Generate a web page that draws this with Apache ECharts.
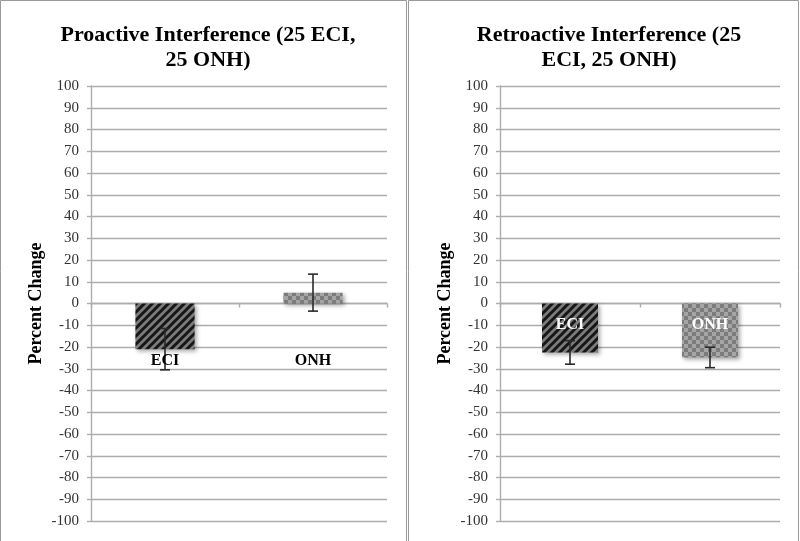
<!DOCTYPE html>
<html>
<head>
<meta charset="utf-8">
<script src="https://cdn.jsdelivr.net/npm/echarts@6/dist/echarts.min.js"></script>
<style>
html,body{margin:0;padding:0;background:#fff;}
#chart{width:800px;height:541px;}
</style>
</head>
<body>
<div id="chart"></div>
<script>
// ---- data ----
const categories = ['ECI', 'ONH'];
const proactiveMeans = [-21, 5];
const proactiveErr = [9.5, 8.5];
const retroMeans = [-22.5, -24.8];
const retroErr = [5.4, 4.7];
const yTicks = [-100, 100, 10]; // min, max, interval
const titles = ['Proactive Interference (25 ECI,\n25 ONH)', 'Retroactive Interference (25\nECI, 25 ONH)'];
const yName = 'Percent Change';

// ---- patterns ----
function stripePattern() {
  const c = document.createElement('canvas');
  c.width = 8; c.height = 8;
  const g = c.getContext('2d');
  g.fillStyle = '#7c7c7c';
  g.fillRect(0, 0, 8, 8);
  g.strokeStyle = '#161616';
  g.lineWidth = 3;
  [[-4, 4, 4, -4], [0, 8, 8, 0], [4, 12, 12, 4]].forEach(p => {
    g.beginPath(); g.moveTo(p[0], p[1]); g.lineTo(p[2], p[3]); g.stroke();
  });
  return c;
}
function checkerPattern() {
  const c = document.createElement('canvas');
  c.width = 8; c.height = 8;
  const g = c.getContext('2d');
  g.fillStyle = '#a5a5a5'; g.fillRect(0, 0, 8, 8);
  g.fillStyle = '#7c7c7c';
  g.fillRect(0, 0, 4, 4); g.fillRect(4, 4, 4, 4);
  return c;
}
const fills = [
  { image: stripePattern(), repeat: 'repeat' },
  { image: checkerPattern(), repeat: 'repeat' }
];

const font = '"Liberation Serif", "DejaVu Serif", serif';
const gridColor = '#adadad';

function errData(means, errs) {
  return means.map((m, i) => [i, m - errs[i], m + errs[i]]);
}
function barData(means) {
  return means.map((m, i) => ({
    value: m,
    itemStyle: {
      color: fills[i],
      shadowColor: 'rgba(0,0,0,0.35)', shadowBlur: 4, shadowOffsetX: 2, shadowOffsetY: 2
    }
  }));
}
function errSeries(idx, means, errs) {
  return {
    type: 'custom', xAxisIndex: idx, yAxisIndex: idx, z: 5,
    data: errData(means, errs),
    renderItem: function (params, api) {
      const x = api.value(0);
      const lo = api.coord([x, api.value(1)]);
      const hi = api.coord([x, api.value(2)]);
      const w = 5;
      const st = { stroke: '#2a2a2a', lineWidth: 1.6 };
      return {
        type: 'group',
        children: [
          { type: 'line', shape: { x1: lo[0], y1: lo[1], x2: hi[0], y2: hi[1] }, style: st },
          { type: 'line', shape: { x1: lo[0] - w, y1: lo[1], x2: lo[0] + w, y2: lo[1] }, style: st },
          { type: 'line', shape: { x1: hi[0] - w, y1: hi[1], x2: hi[0] + w, y2: hi[1] }, style: st }
        ]
      };
    }
  };
}
// category labels drawn just below the zero line (as in the original)
function catLabelSeries(idx, offset, color) {
  return {
    type: 'custom', xAxisIndex: idx, yAxisIndex: idx, z: 6,
    data: categories.map((c, i) => [i, 0]),
    renderItem: function (params, api) {
      const p = api.coord([api.value(0), 0]);
      return {
        type: 'text',
        style: {
          text: categories[params.dataIndex], x: p[0], y: p[1] + offset,
          align: 'center', verticalAlign: 'middle',
          font: 'bold 16px ' + font, fill: color
        }
      };
    }
  };
}
function yAxis(idx) {
  return {
    type: 'value', gridIndex: idx,
    min: yTicks[0], max: yTicks[1], interval: yTicks[2],
    name: yName, nameLocation: 'middle', nameGap: 46, nameRotate: 90, nameMoveOverlap: false,
    nameTextStyle: { fontFamily: font, fontWeight: 'bold', fontSize: 18, color: '#000' },
    axisLine: { show: true, lineStyle: { color: gridColor, width: 1.4 } },
    axisTick: { show: true, length: 4, lineStyle: { color: gridColor, width: 1.4 } },
    axisLabel: { fontFamily: font, fontSize: 15, color: '#333', margin: 12 },
    splitLine: { show: true, lineStyle: { color: gridColor, width: 1.4 } }
  };
}
function xAxis(idx) {
  return {
    type: 'category', gridIndex: idx, data: categories,
    axisLine: { show: true, onZero: true, lineStyle: { color: gridColor, width: 1.4 } },
    axisTick: { show: true, length: 4, lineStyle: { color: gridColor, width: 1.4 } },
    axisLabel: { show: false }
  };
}

const chart = echarts.init(document.getElementById('chart'), null, { renderer: 'canvas' });
chart.setOption({
  animation: false,
  backgroundColor: '#fff',
  graphic: [
    { type: 'rect', shape: { x: 0.5, y: 0.5, width: 406, height: 545 }, style: { fill: 'none', stroke: '#9a9a9a', lineWidth: 1 }, z: 0 },
    { type: 'rect', shape: { x: 408.5, y: 0.5, width: 390, height: 545 }, style: { fill: 'none', stroke: '#9a9a9a', lineWidth: 1 }, z: 0 }
  ],
  title: [
    { text: titles[0], left: 203, top: 18, textAlign: 'center',
      textStyle: { fontFamily: font, fontWeight: 'bold', fontSize: 22, lineHeight: 25, color: '#000' } },
    { text: titles[1], left: 604, top: 18, textAlign: 'center',
      textStyle: { fontFamily: font, fontWeight: 'bold', fontSize: 22, lineHeight: 25, color: '#000' } }
  ],
  grid: [
    { left: 91, right: 413, top: 86, bottom: 20, containLabel: false, outerBoundsMode: 'none' },
    { left: 500, right: 20, top: 86, bottom: 20, containLabel: false, outerBoundsMode: 'none' }
  ],
  xAxis: [xAxis(0), xAxis(1)],
  yAxis: [yAxis(0), yAxis(1)],
  series: [
    { type: 'bar', xAxisIndex: 0, yAxisIndex: 0, barWidth: '40%', data: barData(proactiveMeans), z: 2 },
    errSeries(0, proactiveMeans, proactiveErr),
    catLabelSeries(0, 57, '#000'),
    { type: 'bar', xAxisIndex: 1, yAxisIndex: 1, barWidth: '40%', data: barData(retroMeans), z: 2 },
    errSeries(1, retroMeans, retroErr),
    catLabelSeries(1, 21, '#fff')
  ]
});
</script>
</body>
</html>
